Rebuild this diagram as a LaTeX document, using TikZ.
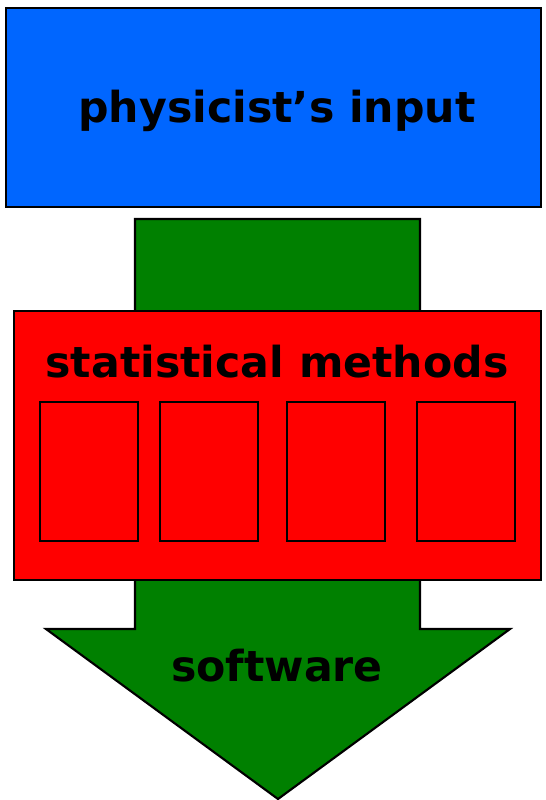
\documentclass[tikz,border=0pt]{standalone}
\usepackage{fontspec}
\setmainfont{DejaVu Sans}
\definecolor{topblue}{RGB}{0,102,255}
\definecolor{flowgreen}{RGB}{0,128,0}
\definecolor{methred}{RGB}{255,0,0}
\begin{document}
\begin{tikzpicture}[x=0.75pt,y=-0.75pt,
  panel/.style={draw=black,line width=1.6pt},
  label/.style={font=\bfseries\fontsize{32}{36}\selectfont,inner sep=0pt},
  subbox/.style={draw=black,line width=1.1pt,fill=methred,
    minimum width=98*0.75pt,minimum height=139*0.75pt}]
\useasboundingbox (0,0) rectangle (546,800);
% physicist's input
\draw[panel,fill=topblue] (6,8) rectangle (541,207);
\node[label] (input) at (277,111) {physicist’s input};
% big arrow through the methods block
\draw[panel,fill=flowgreen,line join=miter]
  (135,219) -- (420,219) -- (420,629) -- (510,629) -- (278,799)
  -- (46,629) -- (135,629) -- cycle;
% statistical methods block
\draw[panel,fill=methred] (14,311) rectangle (541,580);
\node[label] (methods) at (277,362) {statistical methods};
\node[subbox] (m1) at (89,471.5) {};
\node[subbox] (m2) at (209,471.5) {};
\node[subbox] (m3) at (336,471.5) {};
\node[subbox] (m4) at (466,471.5) {};
\node[label] (software) at (277,666) {software};
\end{tikzpicture}
\end{document}
